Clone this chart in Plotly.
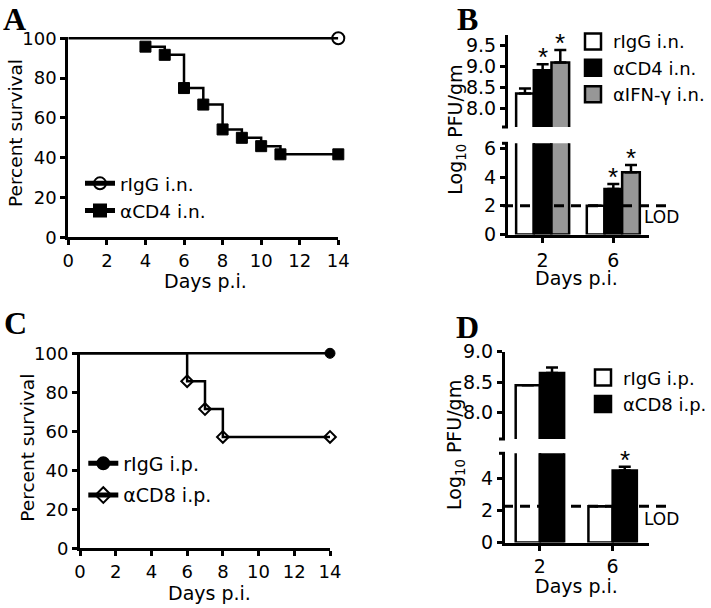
import plotly.graph_objects as go

W, H = 711, 608

# ---------------- data ----------------
# Panel A: survival after intranasal antibody
a_days_rigg = [0, 14]
a_surv_rigg = [100, 100]
a_days_cd4 = [4, 5, 6, 7, 8, 9, 10, 11, 14]
a_surv_cd4 = [95.8, 91.7, 75.0, 66.7, 54.2, 50.0, 45.8, 41.7, 41.7]

# Panel C: survival after i.p. antibody
c_days_rigg = [0, 14]
c_surv_rigg = [100, 100]
c_days_cd8 = [0, 6, 7, 8, 14]
c_surv_cd8 = [100, 85.7, 71.4, 57.1, 57.1]

surv_xticks = [0, 2, 4, 6, 8, 10, 12, 14]
surv_yticks = [0, 20, 40, 60, 80, 100]

# Panel B: viral titres (log10 PFU/gm)
b_days = ["2", "6"]
b_rigg = [8.35, 2.0]
b_rigg_err = [0.12, 0.0]
b_cd4 = [8.91, 3.18]
b_cd4_err = [0.14, 0.34]
b_ifn = [9.09, 4.34]
b_ifn_err = [0.30, 0.51]
b_sig_cd4 = [True, True]
b_sig_ifn = [True, True]
b_lod = 2.0
b_upper_ticks = [8.0, 8.5, 9.0, 9.5]
b_lower_ticks = [0, 2, 4, 6]

# Panel D
d_days = ["2", "6"]
d_rigg = [8.45, 2.25]
d_rigg_err = [0.0, 0.0]
d_cd8 = [8.65, 4.47]
d_cd8_err = [0.09, 0.24]
d_sig_cd8 = [False, True]
d_lod = 2.25
d_upper_ticks = [8.0, 8.5, 9.0]
d_lower_ticks = [0, 2, 4]

# ---------------- helpers ----------------
FONT = "DejaVu Sans"
def fx(p):
    return p / W
def fy(p):
    return 1 - p / H

fig = go.Figure()

LW = 3  # axis line width
YPAD = 0.7  # a little headroom so the 100 % line is not clipped


def surv_axes(xn, yn, x0, x1, ytop, ybot, standoff):
    ppu = (ybot - ytop) / 100.0
    fig.layout[f"xaxis{xn}"] = dict(
        domain=[fx(x0), fx(x1)], range=[0, 14], anchor=f"y{yn}",
        showline=True, linecolor="black", linewidth=LW, showgrid=False, zeroline=False,
        ticks="outside", ticklen=5, tickwidth=LW, tickcolor="black", ticklabelstandoff=standoff,
        tickvals=surv_xticks, tickfont=dict(family=FONT, size=18, color="black"),
    )
    fig.layout[f"yaxis{yn}"] = dict(
        domain=[fy(ybot), fy(ytop - YPAD * ppu)], range=[0, 100 + YPAD], anchor=f"x{xn}",
        showline=True, linecolor="black", linewidth=LW, showgrid=False, zeroline=False,
        ticks="outside", ticklen=5, tickwidth=LW, tickcolor="black",
        tickvals=surv_yticks, tickfont=dict(family=FONT, size=18, color="black"),
    )


surv_axes("", "", 68.3, 338.3, 38.3, 237.3, 0)
surv_axes("4", "4", 80, 330, 353.3, 548.3, 0)


def surv_trace(days, surv, xa, ya, symbol, msize, mline, name, lg):
    # data trace (no marker at the day-0 starting point)
    sizes = [0 if d == 0 else msize for d in days]
    fig.add_trace(go.Scatter(
        x=days, y=surv, xaxis=xa, yaxis=ya, name=name, showlegend=False,
        mode="lines+markers", line=dict(color="black", width=2.5, shape="hv"),
        marker=dict(symbol=symbol, size=sizes, color="black", opacity=1,
                    line=dict(width=mline, color="black")),
        cliponaxis=False))
    # legend entry
    fig.add_trace(go.Scatter(
        x=[None], y=[None], xaxis=xa, yaxis=ya, name=name, legend=lg, legendgroup=name,
        mode="lines+markers", line=dict(color="black", width=2.5),
        marker=dict(symbol=symbol, size=msize, color="black", line=dict(width=mline, color="black"))))


surv_trace(a_days_rigg, a_surv_rigg, "x", "y", "circle-open", 12, 2, "rIgG i.n.", "legend")
surv_trace(a_days_cd4, a_surv_cd4, "x", "y", "square", 11, 1, "αCD4 i.n.", "legend")
surv_trace(c_days_rigg, c_surv_rigg, "x4", "y4", "circle", 10, 1, "rIgG i.p.", "legend3")
surv_trace(c_days_cd8, c_surv_cd8, "x4", "y4", "diamond-open", 9, 2, "αCD8 i.p.", "legend3")


# ---------------- broken-axis bar panels ----------------
def bar_axes(xu, yu, xl, yl, x0, x1, xrange, cats, up, lo, up_ticks, lo_ticks, standoff):
    # up = (top_px, bottom_px, vmin, vmax); lo = (top_px, bottom_px, vmax)
    pos = list(range(len(cats)))
    fig.layout[f"xaxis{xl}"] = dict(
        domain=[fx(x0), fx(x1)], range=xrange, anchor=f"y{yl}",
        showline=True, linecolor="black", linewidth=LW, showgrid=False, zeroline=False,
        ticks="outside", ticklen=5, tickwidth=LW, tickcolor="black", ticklabelstandoff=standoff,
        tickvals=pos, ticktext=cats, tickfont=dict(family=FONT, size=19, color="black"),
    )
    fig.layout[f"xaxis{xu}"] = dict(
        domain=[fx(x0), fx(x1)], range=xrange, anchor=f"y{yu}", visible=False,
        matches=f"x{xl}",
    )
    fig.layout[f"yaxis{yu}"] = dict(
        domain=[fy(up[1]), fy(up[0])], range=[up[2], up[3]], anchor=f"x{xu}",
        showline=True, linecolor="black", linewidth=LW, showgrid=False, zeroline=False,
        ticks="outside", ticklen=5, tickwidth=LW, tickcolor="black",
        tickvals=up_ticks, ticktext=[f"{v:.1f}" for v in up_ticks],
        tickfont=dict(family=FONT, size=19, color="black"),
    )
    fig.layout[f"yaxis{yl}"] = dict(
        domain=[fy(lo[1]), fy(lo[0])], range=[0, lo[2]], anchor=f"x{xl}",
        showline=True, linecolor="black", linewidth=LW, showgrid=False, zeroline=False,
        ticks="outside", ticklen=5, tickwidth=LW, tickcolor="black",
        tickvals=lo_ticks, ticktext=[str(v) for v in lo_ticks],
        tickfont=dict(family=FONT, size=19, color="black"),
    )
    # break marks at the ends of the split axis
    for ya, yv in [(f"y{yu} domain", 0), (f"y{yl} domain", 1)]:
        fig.add_shape(type="line", xref="paper", yref=ya, x0=fx(x0 - 6), x1=fx(x0),
                      y0=yv, y1=yv, line=dict(color="black", width=LW))
    return pos


def add_bars(pos, vals, errs, axes, color, offset, width):
    for xa, ya in axes:
        fig.add_trace(go.Bar(
            x=pos, y=vals, xaxis=xa, yaxis=ya, width=width, offset=offset,
            marker=dict(color=color, line=dict(color="black", width=2.5)),
            error_y=dict(type="data", symmetric=False, array=errs,
                         arrayminus=[0] * len(errs), color="black", thickness=2.5, width=6),
            showlegend=False, hoverinfo="skip"))


def add_stars(pos, vals, errs, sig, offset, width, split, up_axes, lo_axes):
    for p, v, e, s in zip(pos, vals, errs, sig):
        if not s:
            continue
        xa, ya = up_axes if v + e > split else lo_axes
        fig.add_annotation(x=p + offset + width / 2, y=v + e, xref=xa, yref=ya,
                           text="*", showarrow=False, yanchor="middle", yshift=7,
                           font=dict(family="Liberation Sans", size=26, color="black"))


GRAY = "#979797"

# Panel B
b_up = (35, 127, 7.55, 9.75)
b_lo = (143.3, 234.5, 6.36)
pos_b = bar_axes("2", "2", "3", "3", 508, 649, [-0.49, 1.505], b_days, b_up, b_lo,
                 b_upper_ticks, b_lower_ticks, 2)
wb = 0.25
b_axes = [("x2", "y2"), ("x3", "y3")]
add_bars(pos_b, b_rigg, b_rigg_err, b_axes, "white", -1.5 * wb, wb)
add_bars(pos_b, b_cd4, b_cd4_err, b_axes, "black", -0.5 * wb, wb)
add_bars(pos_b, b_ifn, b_ifn_err, b_axes, GRAY, 0.5 * wb, wb)
add_stars(pos_b, b_cd4, b_cd4_err, b_sig_cd4, -0.5 * wb, wb, b_up[2], ("x2", "y2"), ("x3", "y3"))
add_stars(pos_b, b_ifn, b_ifn_err, b_sig_ifn, 0.5 * wb, wb, b_up[2], ("x2", "y2"), ("x3", "y3"))

# Panel D
d_up = (351.7, 439, 7.57, 9.0)
d_lo = (453.3, 542.5, 5.54)
pos_d = bar_axes("5", "5", "6", "6", 505, 649, [-0.48, 1.50], d_days, d_up, d_lo,
                 d_upper_ticks, d_lower_ticks, 0)
wd = 0.333
d_axes = [("x5", "y5"), ("x6", "y6")]
add_bars(pos_d, d_rigg, d_rigg_err, d_axes, "white", -wd, wd)
add_bars(pos_d, d_cd8, d_cd8_err, d_axes, "black", 0, wd)
add_stars(pos_d, d_cd8, d_cd8_err, d_sig_cd8, 0, wd, d_up[2], ("x5", "y5"), ("x6", "y6"))

# legend proxies for bars
for name, col, lg in [("rIgG i.n.", "white", "legend2"), ("αCD4 i.n.", "black", "legend2"),
                      ("αIFN-γ i.n.", GRAY, "legend2"),
                      ("rIgG i.p.", "white", "legend4"), ("αCD8 i.p.", "black", "legend4")]:
    fig.add_trace(go.Scatter(x=[None], y=[None], xaxis="x3", yaxis="y3", name=name,
                             mode="markers", legend=lg,
                             marker=dict(symbol="square", size=16, color=col,
                                         line=dict(color="black", width=2.5))))

# LOD dashed lines
for lod, ya, x0, x1, ly in [(b_lod, "y3", 503, 673, 217), (d_lod, "y6", 503, 673, 519)]:
    fig.add_shape(type="line", xref="paper", yref=ya, x0=fx(x0), x1=fx(x1), y0=lod, y1=lod,
                  line=dict(color="black", width=3, dash="10px,7px"))
    fig.add_annotation(x=fx(661.5), y=fy(ly), xref="paper", yref="paper", text="LOD",
                       showarrow=False, xanchor="center", yanchor="middle",
                       font=dict(family=FONT, size=17, color="black"))

# axis titles
def title(text, x, y, size=19, angle=0):
    fig.add_annotation(x=fx(x), y=fy(y), xref="paper", yref="paper", text=text,
                       showarrow=False, xanchor="center", yanchor="middle", textangle=angle,
                       font=dict(family=FONT, size=size, color="black"))

title("Days p.i.", 205, 281)
title("Percent survival", 15, 133, 18.5, -90)
title("Days p.i.", 576.7, 278)
title("Log<sub>10</sub> PFU/gm", 456.7, 130, 19, -90)
title("Days p.i.", 209, 592.5)
title("Percent survival", 26.7, 448, 18.5, -90)
title("Days p.i.", 576.7, 586)
title("Log<sub>10</sub> PFU/gm", 455, 445, 19, -90)

# panel letters: box top at the page top / panel-row top
for letter, x, ytop in [("A", 14, 0), ("B", 467.5, 0), ("C", 15, 304), ("D", 467.5, 308)]:
    fig.add_annotation(x=fx(x), y=fy(ytop), xref="paper", yref="paper", text=f"<b>{letter}</b>",
                       showarrow=False, xanchor="center", yanchor="top", borderpad=0,
                       font=dict(family="Liberation Serif", size=32, color="black"))

leg_common = dict(xanchor="left", yanchor="top", bgcolor="rgba(0,0,0,0)", borderwidth=0,
                  xref="paper", yref="paper")
fig.update_layout(
    width=W, height=H, margin=dict(l=0, r=0, t=0, b=0, autoexpand=False), autosize=False,
    paper_bgcolor="white", plot_bgcolor="rgba(0,0,0,0)", barmode="overlay",
    showlegend=True,
    legend=dict(x=fx(80), y=fy(164.8), font=dict(family=FONT, size=18.5, color="black"),
                itemsizing="constant", tracegroupgap=0, **leg_common),
    legend2=dict(x=fx(573), y=fy(23.2), font=dict(family=FONT, size=18, color="black"),
                 itemsizing="trace", **leg_common),
    legend3=dict(x=fx(83.3), y=fy(444.5), font=dict(family=FONT, size=19, color="black"),
                 itemsizing="constant", tracegroupgap=4, **leg_common),
    legend4=dict(x=fx(583), y=fy(359.3), font=dict(family=FONT, size=18, color="black"),
                 itemsizing="trace", **leg_common),
)

fig.write_html(
    "out.html",
    config={"displayModeBar": False},
    post_script="document.body.style.margin='0px';document.body.style.overflow='hidden';",
)
